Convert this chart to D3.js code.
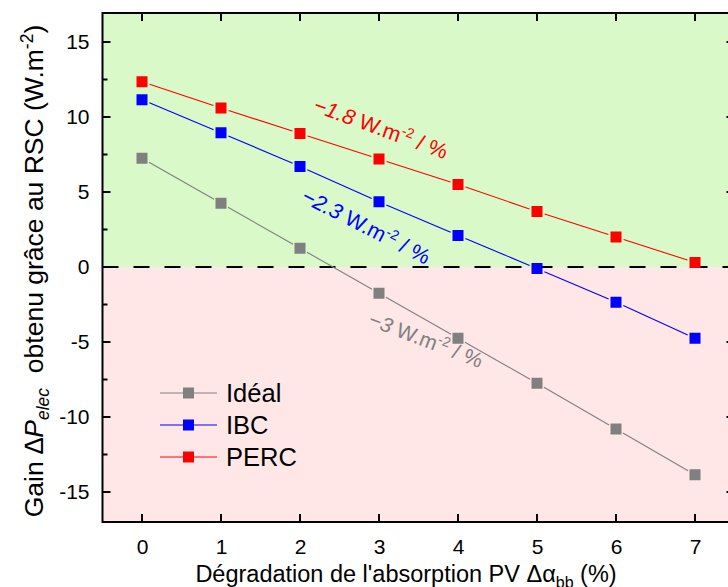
<!DOCTYPE html>
<html><head><meta charset="utf-8">
<script src="https://cdn.jsdelivr.net/npm/d3@7"></script>
<style>body{margin:0;background:#fff}svg{display:block}text{font-family:"Liberation Sans",Arial,sans-serif}</style>
</head><body><svg id="c" width="728" height="587"></svg>
<script>
const xValues = [0,1,2,3,4,5,6,7];
const ideal = [7.25, 4.25, 1.25, -1.75, -4.75, -7.75, -10.8, -13.85];
const ibc   = [11.15, 8.95, 6.7, 4.35, 2.1, -0.1, -2.35, -4.75];
const perc  = [12.35, 10.6, 8.9, 7.2, 5.5, 3.7, 2.0, 0.3];
const seriesNames = ["Idéal","IBC","PERC"];
const seriesColors = ["#808080","#0000ff","#ff0000"];
const yTicks = [-15,-10,-5,0,5,10,15];
const yMinor = [-12.5,-7.5,-2.5,2.5,7.5,12.5];
const slopes = ["−3","−2.3","−1.8"];

const svg = d3.select("#c");
const L=102.5, R=734.5, T=12, B=522;
const x = d3.scaleLinear().domain([-0.5,7.5]).range([L,R]);
const y = d3.scaleLinear().domain([-17,17]).range([B,T]);

// backgrounds
svg.append("rect").attr("x",L).attr("y",y(17)).attr("width",R-L).attr("height",y(0)-y(17)).attr("fill","#d9f9c9");
svg.append("rect").attr("x",L).attr("y",y(0)).attr("width",R-L).attr("height",y(-17)-y(0)).attr("fill","#ffe7e8");

// zero dashed line
svg.append("line").attr("x1",L).attr("x2",R).attr("y1",y(0)).attr("y2",y(0))
  .attr("stroke","#000").attr("stroke-width",2).attr("stroke-dasharray","16,15");

// series
const all = [ideal, ibc, perc];
const gap = 8;
all.forEach((vals,i)=>{
  const pts = xValues.map((v,j)=>[x(v), y(vals[j])]);
  const g = svg.append("g");
  for(let j=0;j<pts.length-1;j++){
    const [x1,y1]=pts[j],[x2,y2]=pts[j+1];
    const d=Math.hypot(x2-x1,y2-y1), ux=(x2-x1)/d, uy=(y2-y1)/d;
    g.append("line").attr("x1",x1+ux*gap).attr("y1",y1+uy*gap).attr("x2",x2-ux*gap).attr("y2",y2-uy*gap)
      .attr("stroke",seriesColors[i]).attr("stroke-width",1.1);
  }
  g.selectAll("rect").data(pts).join("rect")
    .attr("x",d=>d[0]-5.5).attr("y",d=>d[1]-5.5).attr("width",11).attr("height",11)
    .attr("fill",seriesColors[i]);
});

// axes frame
const ax = svg.append("g").attr("stroke","#000");
ax.append("rect").attr("x",L).attr("y",T+1).attr("width",R-L).attr("height",B-T-1)
  .attr("fill","none").attr("stroke-width",2);
xValues.forEach(v=>{
  ax.append("line").attr("x1",x(v)).attr("x2",x(v)).attr("y1",B).attr("y2",B-8).attr("stroke-width",2);
  ax.append("line").attr("x1",x(v)).attr("x2",x(v)).attr("y1",T+1).attr("y2",T+9).attr("stroke-width",2);
});
yTicks.forEach(v=>{
  ax.append("line").attr("x1",L).attr("x2",L+8).attr("y1",y(v)).attr("y2",y(v)).attr("stroke-width",2);
  ax.append("line").attr("x1",R).attr("x2",R-8).attr("y1",y(v)).attr("y2",y(v)).attr("stroke-width",2);
});
yMinor.forEach(v=>{
  ax.append("line").attr("x1",L).attr("x2",L+5).attr("y1",y(v)).attr("y2",y(v)).attr("stroke-width",2);
  ax.append("line").attr("x1",R).attr("x2",R-5).attr("y1",y(v)).attr("y2",y(v)).attr("stroke-width",2);
});

// tick labels via d3 axes (no lines)
const gx = svg.append("g").attr("transform",`translate(0,${B+14})`)
  .call(d3.axisBottom(x).tickValues(xValues).tickSize(0).tickFormat(d3.format("d")));
gx.select(".domain").remove();
gx.selectAll("text").attr("font-size",21).attr("font-family","Liberation Sans, Arial").attr("fill","#000").attr("dy","0.71em");
const gy = svg.append("g").attr("transform",`translate(${L-10},0)`)
  .call(d3.axisLeft(y).tickValues(yTicks).tickSize(0).tickFormat(d=>d<0?"-"+Math.abs(d):d));
gy.select(".domain").remove();
gy.selectAll("text").attr("font-size",21).attr("font-family","Liberation Sans, Arial").attr("fill","#000");

// x title
const xt = svg.append("text").attr("x",406).attr("y",582).attr("text-anchor","middle").attr("font-size",23.5);
xt.append("tspan").text("Dégradation de l'absorption PV Δα");
xt.append("tspan").attr("font-size",16).attr("dy",6).text("bb");
xt.append("tspan").attr("dy",-6).text(" (%)");

// y title
const yt = svg.append("text").attr("transform","translate(43,271) rotate(-90)").attr("text-anchor","middle").attr("font-size",26.5);
yt.append("tspan").text("Gain ");
yt.append("tspan").attr("font-style","italic").text("∆P");
yt.append("tspan").attr("font-style","italic").attr("font-size",17.5).attr("dy",6).text("elec");
yt.append("tspan").attr("dy",-6).text("\u00a0\u00a0obtenu grâce au RSC (W.m");
yt.append("tspan").attr("font-size",17.5).attr("dy",-10).text("-2");
yt.append("tspan").attr("dy",10).text(")");

// annotations
const ann = [
  {i:0, x:367, y:325, a:21, fs:21},
  {i:1, x:300, y:201, a:27, fs:21.5},
  {i:2, x:312, y:111, a:20, fs:21.5}
];
ann.forEach(o=>{
  const t = svg.append("text").attr("transform",`translate(${o.x},${o.y}) rotate(${o.a})`)
    .attr("font-size",o.fs).attr("fill",seriesColors[o.i]);
  t.append("tspan").attr("font-style","italic").attr("font-family","Liberation Sans Narrow, Liberation Sans").text(slopes[o.i]);
  t.append("tspan").text(" W.m");
  t.append("tspan").attr("font-size",14).attr("dy",-8).text("-2");
  t.append("tspan").attr("dy",8).text(" / %");
});

// legend
const lg = svg.append("g");
seriesNames.forEach((n,i)=>{
  const yy = 393 + i*32;
  lg.append("line").attr("x1",160).attr("x2",217).attr("y1",yy).attr("y2",yy).attr("stroke",seriesColors[i]).attr("stroke-width",1.1);
  lg.append("rect").attr("x",183).attr("y",yy-5.5).attr("width",11).attr("height",11).attr("fill",seriesColors[i]);
  lg.append("text").attr("x",226).attr("y",yy+9).attr("font-size",25.5).attr("fill","#000").text(n);
});
</script></body></html>
